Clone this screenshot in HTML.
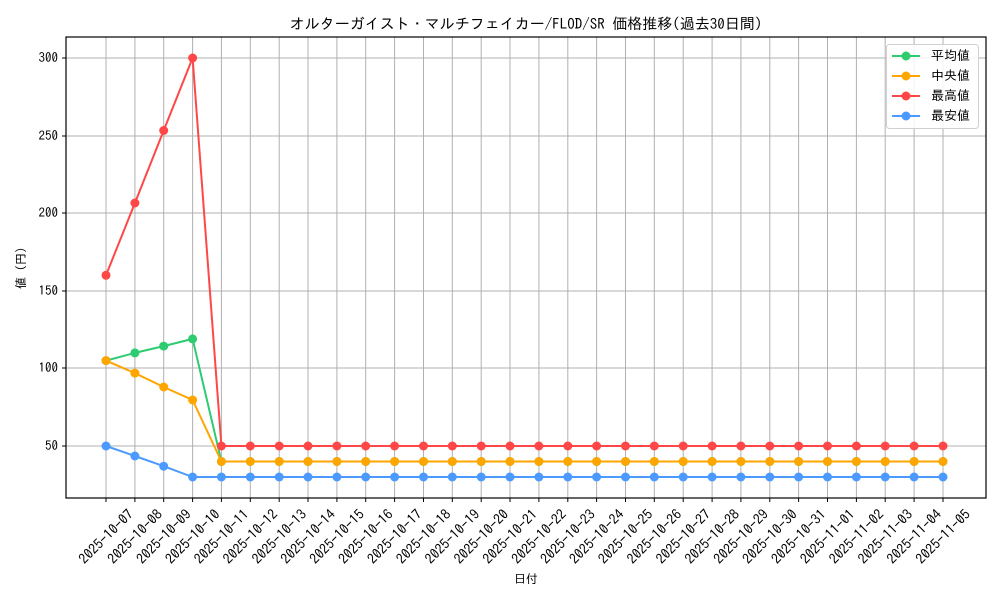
<!DOCTYPE html>
<html><head><meta charset="utf-8"><style>
body{margin:0;background:#fff}
svg{display:block;font-family:"IPAGothic","Liberation Sans","Noto Sans CJK JP",sans-serif}
</style></head><body>
<svg width="1000" height="600" xmlns="http://www.w3.org/2000/svg">
<defs>
<marker id="mg" markerUnits="userSpaceOnUse" markerWidth="12" markerHeight="12" refX="6" refY="6"><circle cx="6" cy="6" r="4.5" fill="#2ecc71"/></marker>
<marker id="mo" markerUnits="userSpaceOnUse" markerWidth="12" markerHeight="12" refX="6" refY="6"><circle cx="6" cy="6" r="4.5" fill="#ffa500"/></marker>
<marker id="mr" markerUnits="userSpaceOnUse" markerWidth="12" markerHeight="12" refX="6" refY="6"><circle cx="6" cy="6" r="4.5" fill="#ff4747"/></marker>
<marker id="mb" markerUnits="userSpaceOnUse" markerWidth="12" markerHeight="12" refX="6" refY="6"><circle cx="6" cy="6" r="4.5" fill="#4c9aff"/></marker>
</defs>
<text x="526" y="29" font-size="15" text-anchor="middle">オルターガイスト・マルチフェイカー/FLOD/SR 価格推移(過去30日間)</text>
<g stroke="#b0b0b0" stroke-width="1">
<line x1="66" x2="986" y1="58" y2="58"/><line x1="66" x2="986" y1="136" y2="136"/><line x1="66" x2="986" y1="213" y2="213"/><line x1="66" x2="986" y1="291" y2="291"/><line x1="66" x2="986" y1="368" y2="368"/><line x1="66" x2="986" y1="446" y2="446"/>
<path d="M106 37V498M134.9 37V498M163.7 37V498M192.6 37V498M221.4 37V498M250.3 37V498M279.2 37V498M308 37V498M336.9 37V498M365.7 37V498M394.6 37V498M423.5 37V498M452.3 37V498M481.2 37V498M510 37V498M538.9 37V498M567.8 37V498M596.6 37V498M625.5 37V498M654.3 37V498M683.2 37V498M712.1 37V498M740.9 37V498M769.8 37V498M798.6 37V498M827.5 37V498M856.4 37V498M885.2 37V498M914.1 37V498M943 37V498"/>
</g>
<g fill="none" stroke-width="2">
<polyline stroke="#2ecc71" marker-start="url(#mg)" marker-mid="url(#mg)" marker-end="url(#mg)" points="106,360.6 134.9,352.9 163.7,346.1 192.6,338.9 221.4,461.5 250.3,461.5 279.2,461.5 308,461.5 336.9,461.5 365.7,461.5 394.6,461.5 423.5,461.5 452.3,461.5 481.2,461.5 510,461.5 538.9,461.5 567.8,461.5 596.6,461.5 625.5,461.5 654.3,461.5 683.2,461.5 712.1,461.5 740.9,461.5 769.8,461.5 798.6,461.5 827.5,461.5 856.4,461.5 885.2,461.5 914.1,461.5 943,461.5"/>
<polyline stroke="#ffa500" marker-start="url(#mo)" marker-mid="url(#mo)" marker-end="url(#mo)" points="106,360.6 134.9,373.1 163.7,387 192.6,400 221.4,461.5 250.3,461.5 279.2,461.5 308,461.5 336.9,461.5 365.7,461.5 394.6,461.5 423.5,461.5 452.3,461.5 481.2,461.5 510,461.5 538.9,461.5 567.8,461.5 596.6,461.5 625.5,461.5 654.3,461.5 683.2,461.5 712.1,461.5 740.9,461.5 769.8,461.5 798.6,461.5 827.5,461.5 856.4,461.5 885.2,461.5 914.1,461.5 943,461.5"/>
<polyline stroke="#ff4747" marker-start="url(#mr)" marker-mid="url(#mr)" marker-end="url(#mr)" points="106,275.3 134.9,203 163.7,130.5 192.6,58 221.4,446 250.3,446 279.2,446 308,446 336.9,446 365.7,446 394.6,446 423.5,446 452.3,446 481.2,446 510,446 538.9,446 567.8,446 596.6,446 625.5,446 654.3,446 683.2,446 712.1,446 740.9,446 769.8,446 798.6,446 827.5,446 856.4,446 885.2,446 914.1,446 943,446"/>
<polyline stroke="#4c9aff" marker-start="url(#mb)" marker-mid="url(#mb)" marker-end="url(#mb)" points="106,446 134.9,456 163.7,466.2 192.6,477 221.4,477 250.3,477 279.2,477 308,477 336.9,477 365.7,477 394.6,477 423.5,477 452.3,477 481.2,477 510,477 538.9,477 567.8,477 596.6,477 625.5,477 654.3,477 683.2,477 712.1,477 740.9,477 769.8,477 798.6,477 827.5,477 856.4,477 885.2,477 914.1,477 943,477"/>
</g>
<rect x="66" y="37" width="920" height="461" fill="none" stroke="#000" stroke-width="1.2"/>
<g stroke="#000"><path d="M62 58H66M62 136H66M62 213H66M62 291H66M62 368H66M62 446H66"/>
<path d="M106 498v4M134.9 498v4M163.7 498v4M192.6 498v4M221.4 498v4M250.3 498v4M279.2 498v4M308 498v4M336.9 498v4M365.7 498v4M394.6 498v4M423.5 498v4M452.3 498v4M481.2 498v4M510 498v4M538.9 498v4M567.8 498v4M596.6 498v4M625.5 498v4M654.3 498v4M683.2 498v4M712.1 498v4M740.9 498v4M769.8 498v4M798.6 498v4M827.5 498v4M856.4 498v4M885.2 498v4M914.1 498v4M943 498v4"/></g>
<g font-size="13" text-anchor="end">
<text x="58" y="62">300</text><text x="58" y="140">250</text><text x="58" y="217">200</text><text x="58" y="295">150</text><text x="58" y="372">100</text><text x="58" y="450">50</text>
</g>
<g font-size="14" text-anchor="middle">
<text transform="translate(109.5,540) rotate(-45)">2025-10-07</text>
<text transform="translate(138.4,540) rotate(-45)">2025-10-08</text>
<text transform="translate(167.2,540) rotate(-45)">2025-10-09</text>
<text transform="translate(196.1,540) rotate(-45)">2025-10-10</text>
<text transform="translate(224.9,540) rotate(-45)">2025-10-11</text>
<text transform="translate(253.8,540) rotate(-45)">2025-10-12</text>
<text transform="translate(282.7,540) rotate(-45)">2025-10-13</text>
<text transform="translate(311.5,540) rotate(-45)">2025-10-14</text>
<text transform="translate(340.4,540) rotate(-45)">2025-10-15</text>
<text transform="translate(369.2,540) rotate(-45)">2025-10-16</text>
<text transform="translate(398.1,540) rotate(-45)">2025-10-17</text>
<text transform="translate(427,540) rotate(-45)">2025-10-18</text>
<text transform="translate(455.8,540) rotate(-45)">2025-10-19</text>
<text transform="translate(484.7,540) rotate(-45)">2025-10-20</text>
<text transform="translate(513.5,540) rotate(-45)">2025-10-21</text>
<text transform="translate(542.4,540) rotate(-45)">2025-10-22</text>
<text transform="translate(571.3,540) rotate(-45)">2025-10-23</text>
<text transform="translate(600.1,540) rotate(-45)">2025-10-24</text>
<text transform="translate(629,540) rotate(-45)">2025-10-25</text>
<text transform="translate(657.8,540) rotate(-45)">2025-10-26</text>
<text transform="translate(686.7,540) rotate(-45)">2025-10-27</text>
<text transform="translate(715.6,540) rotate(-45)">2025-10-28</text>
<text transform="translate(744.4,540) rotate(-45)">2025-10-29</text>
<text transform="translate(773.3,540) rotate(-45)">2025-10-30</text>
<text transform="translate(802.1,540) rotate(-45)">2025-10-31</text>
<text transform="translate(831,540) rotate(-45)">2025-11-01</text>
<text transform="translate(859.9,540) rotate(-45)">2025-11-02</text>
<text transform="translate(888.7,540) rotate(-45)">2025-11-03</text>
<text transform="translate(917.6,540) rotate(-45)">2025-11-04</text>
<text transform="translate(946.5,540) rotate(-45)">2025-11-05</text>
</g>
<text x="526" y="583" font-size="12" text-anchor="middle">日付</text>
<text transform="translate(25,268) rotate(-90)" font-size="12" text-anchor="middle">値 (円)</text>
<rect x="886.5" y="44.5" width="92" height="84" rx="3" fill="#fff" fill-opacity="0.85" stroke="#d0d0d0"/>
<g stroke-width="2"><line x1="892" x2="920" y1="56" y2="56" stroke="#2ecc71"/><circle cx="906" cy="56" r="4.5" fill="#2ecc71"/>
<line x1="892" x2="920" y1="76" y2="76" stroke="#ffa500"/><circle cx="906" cy="76" r="4.5" fill="#ffa500"/>
<line x1="892" x2="920" y1="96" y2="96" stroke="#ff4747"/><circle cx="906" cy="96" r="4.5" fill="#ff4747"/>
<line x1="892" x2="920" y1="116" y2="116" stroke="#4c9aff"/><circle cx="906" cy="116" r="4.5" fill="#4c9aff"/></g>
<g font-size="13"><text x="931" y="60">平均値</text><text x="931" y="80"> 中央値</text><text x="931" y="100">最高値</text><text x="931" y="120">最安値</text></g>
</svg>
</body></html>
